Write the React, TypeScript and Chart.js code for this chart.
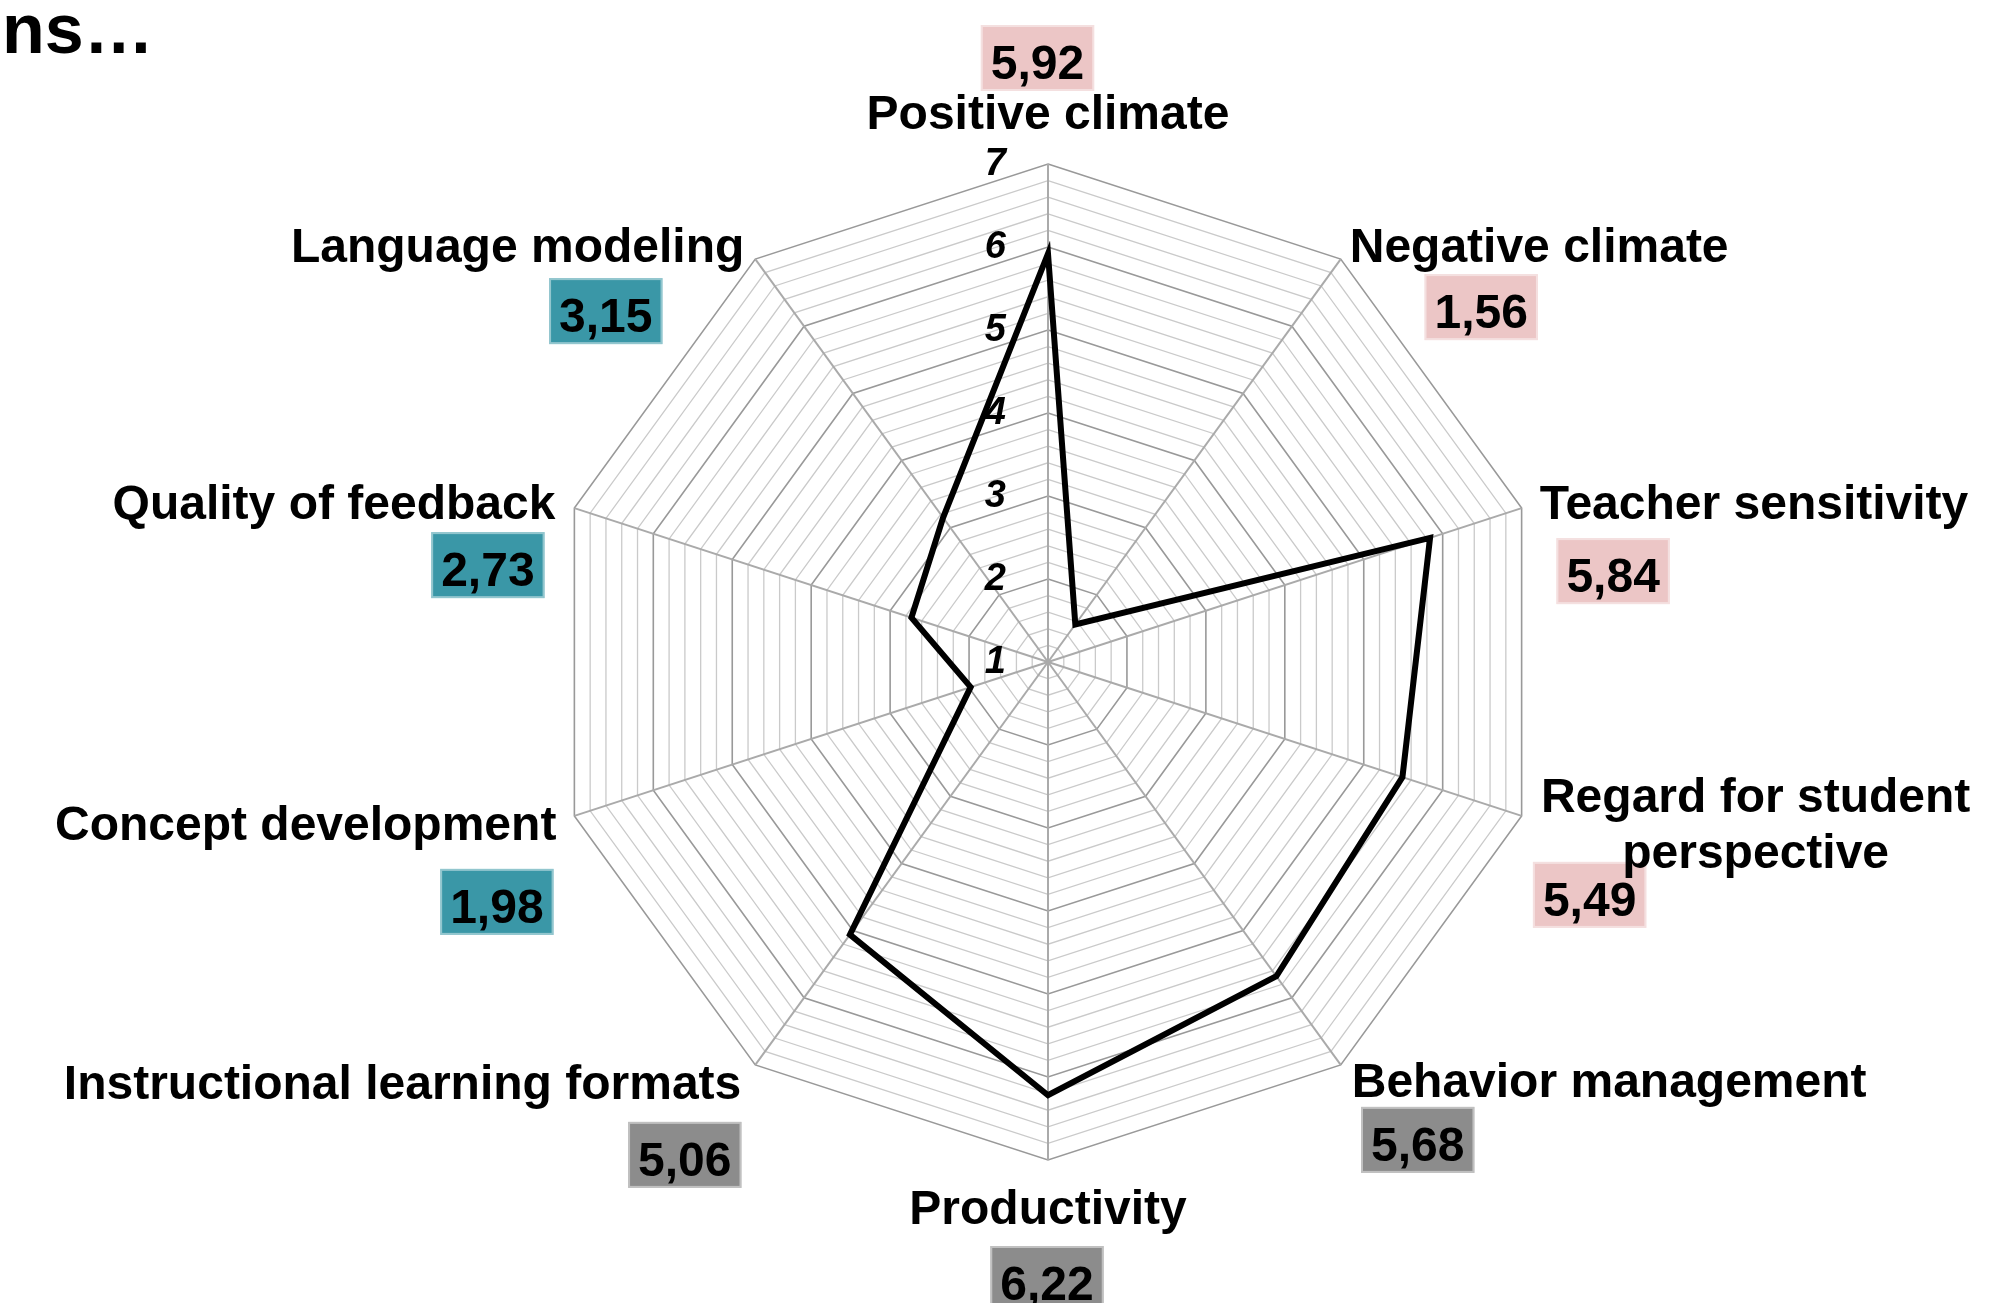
import React, { useEffect, useRef } from "react";
import { Chart, registerables } from "chart.js";

Chart.register(...registerables);

// ---------- data ----------
const categories: (string | string[])[] = [
  "Positive climate",
  "Negative climate",
  "Teacher sensitivity",
  ["Regard for student", "perspective"],
  "Behavior management",
  "Productivity",
  "Instructional learning formats",
  "Concept development",
  "Quality of feedback",
  "Language modeling",
];
const values = [5.92, 1.56, 5.84, 5.49, 5.68, 6.22, 5.06, 1.98, 2.73, 3.15];
const domains = [
  "emotional", "emotional", "emotional", "emotional",
  "organization", "organization", "organization",
  "instructional", "instructional", "instructional",
];
const tickLabels = [1, 2, 3, 4, 5, 6, 7];
const titleText = "ns\u2026";

// ---------- styles / layout ----------
const domainColors: Record<string, string> = {
  emotional: "#ecc6c6",
  organization: "#8c8c8c",
  instructional: "#3a97a7",
};
const FONT = '"Liberation Sans", Arial, Helvetica, sans-serif';
// [align, textDx, textDy, boxCenterDx, boxTopDy] relative to axis end vertex
const labelLayout: [CanvasTextAlign, number, number, number, number][] = [
  ["center", 0, -35, -10.5, -139],
  ["left", 9, 3, 140.5, 15],
  ["left", 18, 11, 91.5, 30],
  ["center", 234, -4, 68, 46],
  ["left", 11, 32, 77, 42],
  ["center", 0, 64, -1, 86],
  ["right", -14, 34, -70.5, 57],
  ["right", -18, 24, -77.5, 53],
  ["right", -19, 11, -86.5, 24],
  ["right", -11, 3, -149.5, 19],
];

const isMajor = (v: number) => Math.abs(v - Math.round(v)) < 1e-6;

const overlayPlugin = {
  id: "overlay",
  beforeDatasetsDraw(chart: any) {
    const scale = chart.scales.r;
    const ctx = chart.ctx as CanvasRenderingContext2D;
    ctx.save();
    ctx.font = `italic bold 38px ${FONT}`;
    ctx.fillStyle = "#000";
    ctx.textAlign = "right";
    ctx.textBaseline = "middle";
    tickLabels.forEach((v) => {
      const d = scale.getDistanceFromCenterForValue(v);
      ctx.fillText(String(v), scale.xCenter - 42, scale.yCenter - d + 1);
    });
    ctx.restore();
  },
  afterDraw(chart: any) {
    const scale = chart.scales.r;
    const ctx = chart.ctx as CanvasRenderingContext2D;
    ctx.save();
    const numFont = `bold 48px ${FONT}`;
    // boxes
    categories.forEach((_, i) => {
      const p = scale.getPointPosition(i, scale.drawingArea);
      const [, , , bdx, bdy] = labelLayout[i];
      const txt = values[i].toFixed(2).replace(".", ",");
      ctx.font = numFont;
      const w = ctx.measureText(txt).width + 20;
      const h = 66;
      const x0 = p.x + bdx - w / 2;
      const y0 = p.y + bdy;
      ctx.fillStyle = domainColors[domains[i]];
      ctx.fillRect(x0, y0, w, h);
      ctx.strokeStyle = "rgba(255,255,255,0.45)";
      ctx.lineWidth = 2;
      ctx.strokeRect(x0 + 1, y0 + 1, w - 2, h - 2);
    });
    // category texts
    ctx.font = `bold 48px ${FONT}`;
    ctx.fillStyle = "#000";
    ctx.textBaseline = "alphabetic";
    categories.forEach((label, i) => {
      const p = scale.getPointPosition(i, scale.drawingArea);
      const [align, dx, dy] = labelLayout[i];
      ctx.textAlign = align;
      const lines = Array.isArray(label) ? label : [label];
      lines.forEach((ln, k) => {
        ctx.fillText(ln, p.x + dx, p.y + dy + k * 56);
      });
    });
    // numbers
    ctx.font = numFont;
    ctx.textAlign = "center";
    categories.forEach((_, i) => {
      const p = scale.getPointPosition(i, scale.drawingArea);
      const [, , , bdx, bdy] = labelLayout[i];
      const txt = values[i].toFixed(2).replace(".", ",");
      ctx.fillText(txt, p.x + bdx, p.y + bdy + 54);
    });
    // title fragment
    ctx.font = `bold 70px ${FONT}`;
    ctx.textAlign = "left";
    ctx.fillText(titleText, 2, 53);
    ctx.restore();
  },
};

export default function App() {
  const ref = useRef<HTMLCanvasElement | null>(null);
  useEffect(() => {
    if (!ref.current) return;
    const chart = new Chart(ref.current, {
      type: "radar",
      data: {
        labels: categories as any,
        datasets: [
          {
            data: values,
            borderColor: "#000",
            borderWidth: 6,
            pointRadius: 0,
            pointHoverRadius: 0,
            fill: false,
            borderJoinStyle: "miter",
          } as any,
        ],
      },
      options: {
        animation: false,
        responsive: false,
        maintainAspectRatio: false,
        devicePixelRatio: 1,
        layout: { padding: { left: 550, right: 464, top: 164, bottom: 143 } },
        plugins: { legend: { display: false }, tooltip: { enabled: false } },
        scales: {
          r: {
            min: 1,
            max: 7,
            ticks: { stepSize: 0.2, display: false },
            pointLabels: { display: false },
            grid: {
              color: (c: any) => (isMajor(c.tick?.value ?? 0) ? "#999999" : "#cacaca"),
              lineWidth: (c: any) => (isMajor(c.tick?.value ?? 0) ? 1.6 : 1.3),
            },
            angleLines: { color: "#aaaaaa", lineWidth: 2 },
          },
        },
      },
      plugins: [overlayPlugin],
    });
    return () => chart.destroy();
  }, []);
  return (
    <div style={{ position: "fixed", left: 0, top: 0, width: 2010, height: 1303, background: "#fff" }}>
      <canvas ref={ref} width={2010} height={1303} style={{ display: "block" }} />
    </div>
  );
}
